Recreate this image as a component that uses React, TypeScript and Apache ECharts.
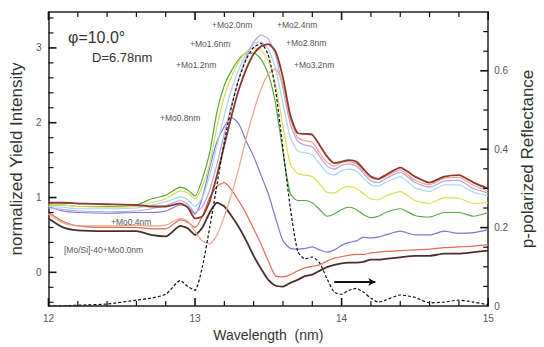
import React, { useEffect, useRef } from "react";
import * as echarts from "echarts";

const WAVELENGTH = [12.0, 12.1, 12.2, 12.4, 12.6, 12.7, 12.8, 12.9, 12.95, 13.0, 13.05, 13.1, 13.15, 13.2, 13.25, 13.3, 13.35, 13.4, 13.45, 13.5, 13.55, 13.6, 13.65, 13.7, 13.75, 13.8, 13.85, 13.9, 13.95, 14.0, 14.05, 14.1, 14.15, 14.2, 14.25, 14.3, 14.4, 14.5, 14.6, 14.7, 14.8, 14.9, 15.0];

const MO_00 = [0.72, 0.6, 0.56, 0.55, 0.55, 0.5, 0.48, 0.62, 0.59, 0.5, 0.6, 0.8, 0.93, 0.88, 0.75, 0.6, 0.42, 0.22, 0.05, -0.1, -0.18, -0.19, -0.14, -0.1, -0.05, -0.03, 0.02, 0.07, 0.1, 0.12, 0.13, 0.13, 0.14, 0.17, 0.17, 0.18, 0.2, 0.22, 0.22, 0.25, 0.25, 0.27, 0.29];
const MO_04 = [0.8, 0.68, 0.62, 0.6, 0.6, 0.58, 0.58, 0.7, 0.67, 0.6, 0.75, 1.0, 1.15, 1.2, 1.1, 0.95, 0.78, 0.58, 0.38, 0.15, -0.05, -0.06, -0.03, 0.02, 0.06, 0.08, 0.1, 0.15, 0.19, 0.21, 0.23, 0.24, 0.24, 0.26, 0.27, 0.28, 0.29, 0.3, 0.31, 0.33, 0.34, 0.35, 0.37];
const MO_08 = [0.88, 0.82, 0.8, 0.79, 0.8, 0.8, 0.82, 0.9, 0.87, 0.78, 1.0, 1.4, 1.75, 1.95, 2.07, 1.98, 1.75, 1.55, 1.3, 1.05, 0.72, 0.42, 0.32, 0.31, 0.32, 0.34, 0.3, 0.27, 0.3, 0.36, 0.4, 0.42, 0.47, 0.46, 0.47, 0.5, 0.55, 0.5, 0.5, 0.55, 0.52, 0.53, 0.57];
const MO_12 = [0.9, 0.9, 0.88, 0.88, 0.9, 0.98, 1.03, 1.14, 1.1, 1.02, 1.25, 1.6, 2.15, 2.5, 2.7, 2.85, 2.93, 2.93, 2.85, 2.65, 2.25, 1.6, 1.05, 0.96, 0.96, 0.93, 0.84, 0.75, 0.78, 0.84, 0.87, 0.84, 0.77, 0.73, 0.75, 0.8, 0.85, 0.76, 0.74, 0.8, 0.8, 0.75, 0.8];
const MO_16 = [0.9, 0.9, 0.88, 0.87, 0.88, 0.93, 0.98, 1.09, 1.06, 0.98, 1.15, 1.45, 1.95, 2.35, 2.62, 2.82, 2.95, 3.0, 2.97, 2.82, 2.5, 1.95, 1.45, 1.32, 1.3, 1.28, 1.18, 1.07, 1.06, 1.12, 1.15, 1.12, 1.05, 0.98, 0.97, 1.02, 1.08, 0.96, 0.92, 1.0, 0.99, 0.92, 0.93];
const MO_20 = [0.88, 0.87, 0.85, 0.85, 0.86, 0.9, 0.94, 1.01, 0.97, 0.88, 1.0, 1.3, 1.7, 2.1, 2.45, 2.72, 2.92, 3.05, 3.08, 2.98, 2.72, 2.25, 1.8, 1.62, 1.6, 1.57, 1.45, 1.33, 1.3, 1.36, 1.38, 1.35, 1.26, 1.17, 1.15, 1.2, 1.28, 1.13, 1.08, 1.17, 1.17, 1.07, 1.02];
const MO_24 = [0.86, 0.84, 0.82, 0.81, 0.82, 0.85, 0.89, 0.96, 0.91, 0.8, 0.88, 1.1, 1.45, 1.85, 2.25, 2.6, 2.88, 3.08, 3.17, 3.12, 2.9, 2.45, 1.98, 1.75, 1.7, 1.68, 1.55, 1.42, 1.38, 1.43, 1.45, 1.42, 1.32, 1.22, 1.2, 1.25, 1.34, 1.2, 1.14, 1.22, 1.23, 1.12, 1.06];
const MO_28 = [0.78, 0.66, 0.62, 0.62, 0.63, 0.62, 0.63, 0.72, 0.69, 0.55, 0.42, 0.38, 0.5, 0.75, 1.05, 1.4, 1.8, 2.15, 2.45, 2.65, 2.72, 2.5, 2.05, 1.8, 1.76, 1.74, 1.6, 1.47, 1.42, 1.47, 1.48, 1.45, 1.35, 1.26, 1.24, 1.28, 1.37, 1.23, 1.17, 1.26, 1.27, 1.16, 1.09];
const MO_32 = [0.93, 0.93, 0.92, 0.91, 0.9, 0.88, 0.88, 0.92, 0.87, 0.72, 0.75, 0.95, 1.3, 1.7, 2.1, 2.45, 2.72, 2.92, 3.02, 3.05, 2.95, 2.6, 2.1, 1.86, 1.85, 1.84, 1.7, 1.55, 1.46, 1.48, 1.5, 1.48, 1.38, 1.28, 1.25, 1.3, 1.4, 1.28, 1.2, 1.28, 1.3, 1.2, 1.12];
const REFLECTANCE = [0.0, 0.0, 0.002, 0.005, 0.015, 0.02, 0.03, 0.065, 0.05, 0.04, 0.1, 0.2, 0.31, 0.42, 0.51, 0.58, 0.63, 0.66, 0.67, 0.64, 0.55, 0.4, 0.25, 0.14, 0.12, 0.125, 0.11, 0.07, 0.035, 0.03, 0.04, 0.045, 0.035, 0.02, 0.01, 0.015, 0.028, 0.022, 0.008, 0.01, 0.015, 0.01, 0.003];

const SERIES_NAMES = ["Mo0.0", "Mo0.4", "Mo0.8", "Mo1.2", "Mo1.6", "Mo2.0", "Mo2.4", "Mo2.8", "Mo3.2"];
const SERIES_VALUES = [MO_00, MO_04, MO_08, MO_12, MO_16, MO_20, MO_24, MO_28, MO_32];
const SERIES_COLORS = ["#4a302a", "#e26a55", "#7a78d8", "#5aa845", "#dcdc55", "#a9d5f2", "#b8a4e8", "#f0a48e", "#8b3a2c"];
const SERIES_WIDTHS = [1.8, 1.2, 1.2, 1.2, 1.2, 1.2, 1.2, 1.2, 1.8];

const CURVE_LABELS = ["+Mo2.0nm", "+Mo2.4nm", "+Mo1.6nm", "+Mo2.8nm", "+Mo1.2nm", "+Mo3.2nm", "+Mo0.8nm", "+Mo0.4nm", "[Mo/Si]-40+Mo0.0nm"];
const ARROW_WAVELENGTH = [13.95, 14.23];
const ARROW_REFLECTANCE = 0.061;

const LEFT_LABELS = [0, 1, 2, 3];
const X_TICKS = [12, 12.2, 12.4, 12.6, 12.8, 13, 13.2, 13.4, 13.6, 13.8, 14, 14.2, 14.4, 14.6, 14.8, 15];
const LEFT_TICKS = [-0.4, -0.2, 0, 0.2, 0.4, 0.6, 0.8, 1, 1.2, 1.4, 1.6, 1.8, 2, 2.2, 2.4, 2.6, 2.8, 3, 3.2, 3.4];
const RIGHT_TICKS = [0.05, 0.1, 0.15, 0.2, 0.25, 0.3, 0.35, 0.4, 0.45, 0.5, 0.55, 0.6, 0.65, 0.7];

const FONT = "'Liberation Sans', Arial, sans-serif";

export default function App() {
  const ref = useRef<HTMLDivElement>(null);
  useEffect(() => {
    if (!ref.current) return;
    const chart = echarts.init(ref.current, null, { renderer: "svg" });
    const LMIN = -0.45, LMAX = 3.48, RMIN = 0, RMAX = 0.75;
    const TICK = "#111";
    const mkLine = () => ({ show: true, onZero: false, lineStyle: { color: "#222", width: 1.5 } });
    const isMult = (v: number, step: number) => Math.abs(v / step - Math.round(v / step)) < 1e-6;
    const tickSeries = (name: string, values: number[], yAxisIndex: number, kind: string) => ({
      type: "custom",
      name,
      xAxisIndex: 0,
      yAxisIndex,
      silent: true,
      clip: false,
      z: 6,
      data: values.map((v) => (kind === "x" ? [v, 0] : [12, v])),
      renderItem: (params: any, api: any) => {
        const cs = params.coordSys;
        const p = api.coord([api.value(0), api.value(1)]);
        const v = kind === "x" ? api.value(0) : api.value(1);
        const major = kind === "right" ? isMult(v, 0.2) : isMult(v, 1);
        const len = major ? 8 : 5;
        const style = { stroke: TICK, lineWidth: major ? 1.6 : 1.2, fill: null };
        if (kind === "x") {
          const yb = cs.y + cs.height;
          return {
            type: "group",
            children: [
              { type: "line", shape: { x1: p[0], y1: yb, x2: p[0], y2: yb - len }, style },
              { type: "line", shape: { x1: p[0], y1: cs.y, x2: p[0], y2: cs.y + len }, style },
            ],
          };
        }
        if (kind === "left") {
          return { type: "line", shape: { x1: cs.x, y1: p[1], x2: cs.x + len, y2: p[1] }, style };
        }
        const xr = cs.x + cs.width;
        return { type: "line", shape: { x1: xr, y1: p[1], x2: xr - len, y2: p[1] }, style };
      },
    });
    const labelPos = [
      [212, 25], [277, 25], [190, 44], [286, 43], [176, 65], [294, 65], [160, 118], [111, 222], [64, 250],
    ];
    const series: any[] = SERIES_VALUES.map((vals, i) => ({
      type: "line",
      name: SERIES_NAMES[i],
      xAxisIndex: 0,
      yAxisIndex: 0,
      data: WAVELENGTH.map((w, k) => [w, vals[k]]),
      showSymbol: false,
      smooth: 0.2,
      lineStyle: { color: SERIES_COLORS[i], width: SERIES_WIDTHS[i] },
      itemStyle: { color: SERIES_COLORS[i] },
      z: 2,
    }));
    series.push({
      type: "line",
      name: "Reflectance",
      xAxisIndex: 0,
      yAxisIndex: 1,
      data: WAVELENGTH.map((w, k) => [w, REFLECTANCE[k]]),
      showSymbol: false,
      smooth: 0.2,
      lineStyle: { color: "#111", width: 1.2, type: [3, 2] },
      z: 3,
      markLine: {
        silent: true,
        symbol: ["none", "arrow"],
        symbolSize: [6, 7],
        label: { show: false },
        lineStyle: { color: "#111", width: 2, type: "solid" },
        data: [[
          { coord: [ARROW_WAVELENGTH[0], ARROW_REFLECTANCE] },
          { coord: [ARROW_WAVELENGTH[1], ARROW_REFLECTANCE] },
        ]],
      },
    });
    series.push(tickSeries("xTicks", X_TICKS, 0, "x"));
    series.push(tickSeries("leftTicks", LEFT_TICKS, 0, "left"));
    series.push(tickSeries("rightTicks", RIGHT_TICKS, 1, "right"));
    chart.setOption({
      animation: false,
      grid: { left: 47, right: 50, top: 12, bottom: 40 },
      xAxis: [
        {
          type: "value", position: "bottom", min: 12, max: 15, interval: 1,
          name: "Wavelength  (nm)", nameLocation: "middle", nameGap: 22,
          nameTextStyle: { fontSize: 14, color: "#333", fontFamily: FONT },
          axisLine: mkLine(), splitLine: { show: false },
          axisTick: { show: false },
          axisLabel: { fontSize: 10, color: "#555", margin: 7, fontFamily: FONT },
        },
        {
          type: "value", position: "top", min: 12, max: 15, interval: 1,
          axisLine: mkLine(), splitLine: { show: false },
          axisTick: { show: false },
          axisLabel: { show: false },
        },
      ],
      yAxis: [
        {
          type: "value", position: "left", min: LMIN, max: LMAX,
          name: "normalized Yield Intensity", nameLocation: "middle", nameGap: 20, nameRotate: 90,
          nameTextStyle: { fontSize: 17, color: "#333", fontFamily: FONT },
          axisLine: mkLine(), splitLine: { show: false },
          axisTick: { show: false },
          axisLabel: { fontSize: 10, color: "#555", margin: 7, customValues: LEFT_LABELS, fontFamily: FONT },
        },
        {
          type: "value", position: "right", min: RMIN, max: RMAX, interval: 0.2,
          name: "p-polarized Reflectance", nameLocation: "middle", nameGap: 30, nameRotate: 90,
          nameTextStyle: { fontSize: 17, color: "#333", fontFamily: FONT },
          axisLine: mkLine(), splitLine: { show: false },
          axisTick: { show: false },
          axisLabel: { fontSize: 10, color: "#555", margin: 6, showMaxLabel: false, fontFamily: FONT },
        },
      ],
      graphic: [
        { type: "text", x: 68, y: 37, style: { text: "φ=10.0°", fill: "#333", font: `16px ${FONT}`, textVerticalAlign: "middle" } },
        { type: "text", x: 92, y: 57, style: { text: "D=6.78nm", fill: "#333", font: `13px ${FONT}`, textVerticalAlign: "middle" } },
        ...CURVE_LABELS.map((t, i) => ({
          type: "text", x: labelPos[i][0], y: labelPos[i][1], z: 10,
          style: { text: t, fill: "#555", font: `8.5px ${FONT}`, textVerticalAlign: "middle" },
        })),
      ],
      series,
    });
    return () => chart.dispose();
  }, []);
  return (
    <div
      ref={ref}
      style={{ position: "fixed", left: 0, top: 0, width: 544, height: 347, background: "#fff" }}
    />
  );
}
